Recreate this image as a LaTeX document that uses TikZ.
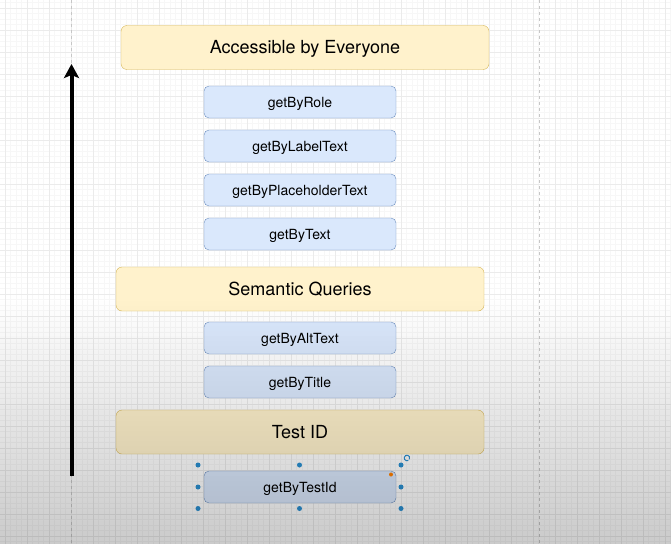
\documentclass[tikz,border=0pt]{standalone}
\usepackage{fontspec}
\setmainfont{TeX Gyre Heros}
\usepackage{tikz}
\usetikzlibrary{
    calc,
    positioning,
    arrows.meta
}
\definecolor{groupfill}{HTML}{FFF2CC}
\definecolor{groupdraw}{HTML}{D6B656}
\definecolor{queryfill}{HTML}{DAE8FC}
\definecolor{querydraw}{HTML}{6C8EBF}
\definecolor{handleblue}{HTML}{2A8FD0}
\tikzset{
    line/.style = {
        line width = 4pt,
        ->,
        > = {
            Stealth[length=14pt, width=15pt, inset=3pt]
        }
    },
    arrow/.style = {
        line
    },
    % Heading bar:
    group node/.style = {
        rectangle,
        rounded corners = 6pt,
        minimum width = 368pt,
        minimum height = 44pt,
        text height = 16pt,
        text depth = 4pt,
        fill = groupfill,
        draw = groupdraw,
        font = \fontsize{18}{20}\selectfont
    },
    % Query box:
    query node/.style = {
        rectangle,
        rounded corners = 5pt,
        minimum width = 192pt,
        minimum height = 32pt,
        text height = 13.5pt,
        text depth = 3pt,
        fill = queryfill,
        draw = querydraw,
        font = \fontsize{14}{16}\selectfont
    },
    % Selection handle:
    handle node/.style = {
        circle,
        fill = handleblue,
        inner sep = 0pt,
        minimum size = 5pt
    },
    minor grid/.style = {
        draw = black!3,
        line width = 0.5pt
    },
    major grid/.style = {
        draw = black!8,
        line width = 0.7pt
    },
    page border/.style = {
        draw = black!22,
        dashed,
        line width = 0.6pt
    }
}

\begin{document}
\begin{tikzpicture}[x=1pt, y=-1pt]
    \useasboundingbox (0, 0) rectangle (671, 543);
    \fill [white] (0, 0) rectangle (671, 543);
    \begin{scope}
        \clip (0, 0) rectangle (671, 543);
        \draw [minor grid, xshift=5pt, yshift=-8pt] (-22, -22) grid [step=5.5pt] (693, 566);
        \draw [major grid, xshift=5pt, yshift=-8pt] (-22, -22) grid [step=22pt] (693, 566);
    \end{scope}
    \draw [page border] (71.5, 0) -- (71.5, 543);
    \draw [page border] (539, 0) -- (539, 543);

    \node [group node] (everyone) at (305, 47.5) {Accessible by Everyone};
    \node [query node] (role) at (300, 102) {getByRole};
    \node [query node] (labeltext) at (300, 146) {getByLabelText};
    \node [query node] (placeholder) at (300, 190) {getByPlaceholderText};
    \node [query node] (bytext) at (300, 234) {getByText};
    \node [group node] (semantic) at (300, 289) {Semantic Queries};
    \node [query node] (alttext) at (300, 338) {getByAltText};
    \node [query node] (bytitle) at (300, 382) {getByTitle};
    \node [group node] (testid) at (300, 432) {Test ID};
    \node [query node] (bytestid) at (300, 487) {getByTestId};

    \coordinate (arrowfoot) at (71.5, 476);
    \coordinate (arrowtip) at (71.5, 64);
    \draw [arrow] (arrowfoot) -- (arrowtip);

    % handles round the selected box
    \node [handle node] (hnw) at (198, 465) {};
    \node [handle node] (hn) at (299.5, 465) {};
    \node [handle node] (hne) at (401, 465) {};
    \node [handle node] (hw) at (198, 487) {};
    \node [handle node] (he) at (401, 487) {};
    \node [handle node] (hsw) at (198, 508.5) {};
    \node [handle node] (hs) at (299.5, 508.5) {};
    \node [handle node] (hse) at (401, 508.5) {};
    \node [circle, fill=orange, inner sep=0pt, minimum size=4pt] (hcorner) at (391, 474.5) {};
    \draw [handleblue, line width=1pt] (407, 458) ++(60:2.8) arc (60:390:2.8);

    % darker lower part of the screen
    \foreach \i in {0,...,49}
        \fill [black, opacity=\i*0.0042] (0, 296+\i*5) rectangle (671, 301.2+\i*5);
\end{tikzpicture}
\end{document}
